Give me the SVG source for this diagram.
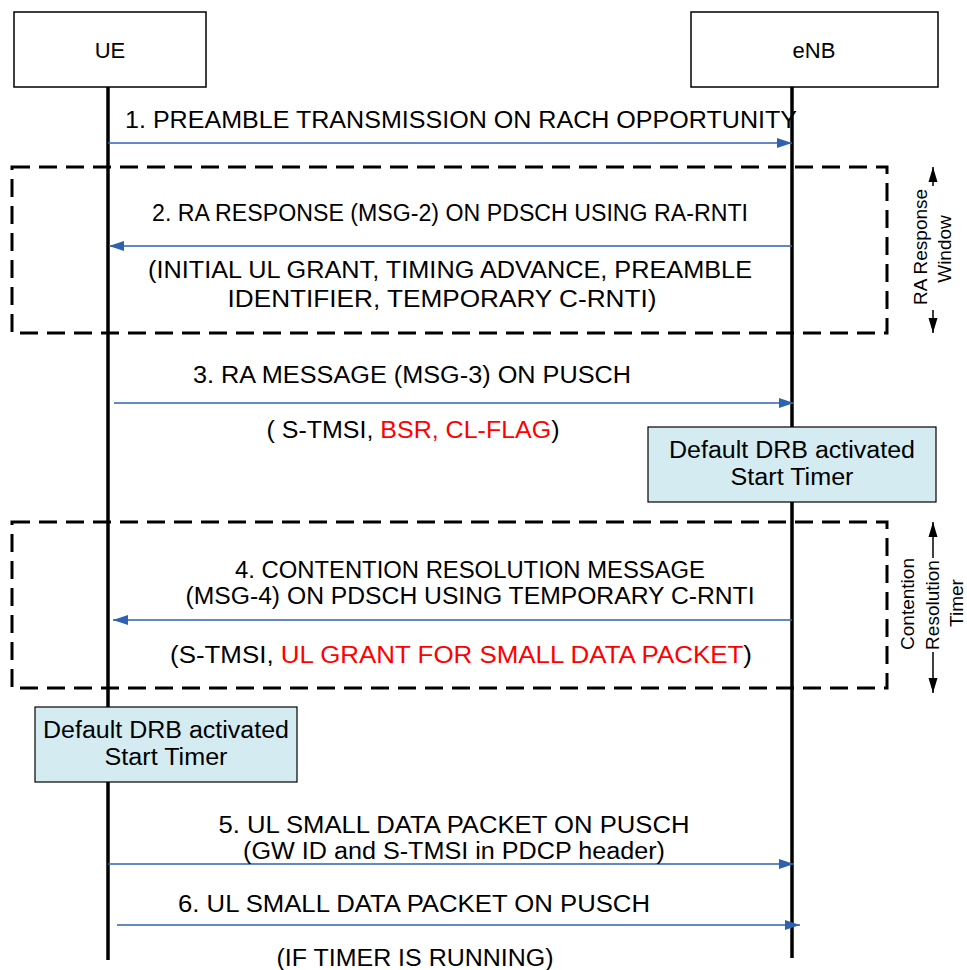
<svg xmlns="http://www.w3.org/2000/svg" width="967" height="970" viewBox="0 0 967 970">
<defs>
<marker id="ab" markerUnits="userSpaceOnUse" markerWidth="16" markerHeight="12" refX="15" refY="6" orient="auto">
<path d="M0,1 L15,6 L0,11 Z" fill="#2E62AE"/>
</marker>
<marker id="ak" markerUnits="userSpaceOnUse" markerWidth="16" markerHeight="12" refX="15" refY="6" orient="auto">
<path d="M0,1.5 L15,6 L0,10.5 Z" fill="#000"/>
</marker>
</defs>
<style>
text{font-family:"Liberation Sans",Arial,sans-serif;fill:#000;}
.t{font-size:23px;text-anchor:middle;}
.h{font-size:22px;text-anchor:middle;}
.v{font-size:19px;text-anchor:middle;}
.red{fill:#FF0000;}
.msg{stroke:#2E62AE;stroke-width:1.5;fill:none;marker-end:url(#ab);}
.life{stroke:#000;stroke-width:3.5;}
.ent{fill:#fff;stroke:#000;stroke-width:1.5;}
.act{fill:#D4ECF1;stroke:#000;stroke-width:1.2;}
.dash{fill:none;stroke:#000;stroke-width:3;stroke-dasharray:18 9;}
.tm{stroke:#000;stroke-width:1.5;fill:none;marker-end:url(#ak);}
</style>
<g id="lifelines">
<line class="life" x1="108" y1="87" x2="108" y2="960"/>
<line class="life" x1="792" y1="87" x2="792" y2="958"/>
</g>
<g id="node-ue">
<rect class="ent" x="14" y="12" width="192" height="75"/>
<text class="h" x="110" y="58">UE</text>
</g>
<g id="node-enb">
<rect class="ent" x="691" y="12" width="247" height="75"/>
<text class="h" x="814" y="58">eNB</text>
</g>
<g id="frame-ra-window">
<rect class="dash" x="12" y="167" width="875" height="166"/>
</g>
<g id="frame-contention">
<rect class="dash" x="12" y="522" width="875" height="166"/>
</g>
<g id="node-enb-timer">
<rect class="act" x="648" y="427" width="288" height="75"/>
<text class="t" x="792" y="458" textLength="246" lengthAdjust="spacingAndGlyphs">Default DRB activated</text>
<text class="t" x="792" y="485" textLength="123" lengthAdjust="spacingAndGlyphs">Start Timer</text>
</g>
<g id="node-ue-timer">
<rect class="act" x="35" y="707" width="262" height="75"/>
<text class="t" x="166" y="738" textLength="246" lengthAdjust="spacingAndGlyphs">Default DRB activated</text>
<text class="t" x="166" y="765" textLength="123" lengthAdjust="spacingAndGlyphs">Start Timer</text>
</g>
<g id="connectors">
<line class="msg" x1="108" y1="143" x2="792" y2="143"/>
<line class="msg" x1="792" y1="246" x2="109" y2="246"/>
<line class="msg" x1="114" y1="403" x2="794" y2="403"/>
<line class="msg" x1="792" y1="620" x2="113" y2="620"/>
<line class="msg" x1="108" y1="864" x2="794" y2="864"/>
<line class="msg" x1="117" y1="925" x2="800" y2="925"/>
<line class="tm" x1="933" y1="186" x2="933" y2="167"/>
<line class="tm" x1="933" y1="310" x2="933" y2="333"/>
<line class="tm" x1="933" y1="558" x2="933" y2="522"/>
<line class="tm" x1="933" y1="652" x2="933" y2="693"/>
</g>
<g id="labels">
<text class="t" x="461" y="128" textLength="672" lengthAdjust="spacingAndGlyphs">1. PREAMBLE TRANSMISSION ON RACH OPPORTUNITY</text>
<text class="t" x="450" y="221" textLength="596" lengthAdjust="spacingAndGlyphs">2. RA RESPONSE (MSG-2) ON PDSCH USING RA-RNTI</text>
<text class="t" x="450" y="278" textLength="604" lengthAdjust="spacingAndGlyphs">(INITIAL UL GRANT, TIMING ADVANCE, PREAMBLE</text>
<text class="t" x="442" y="307" textLength="429" lengthAdjust="spacingAndGlyphs">IDENTIFIER, TEMPORARY C-RNTI)</text>
<text class="t" x="412" y="383" textLength="438" lengthAdjust="spacingAndGlyphs">3. RA MESSAGE (MSG-3) ON PUSCH</text>
<text class="t" x="413" y="438" textLength="293" lengthAdjust="spacingAndGlyphs">( S-TMSI, <tspan class="red">BSR, CL-FLAG</tspan>)</text>
<text class="t" x="470" y="578" textLength="470" lengthAdjust="spacingAndGlyphs">4. CONTENTION RESOLUTION MESSAGE</text>
<text class="t" x="470" y="604" textLength="569" lengthAdjust="spacingAndGlyphs">(MSG-4) ON PDSCH USING TEMPORARY C-RNTI</text>
<text class="t" x="461" y="663" textLength="582" lengthAdjust="spacingAndGlyphs">(S-TMSI, <tspan class="red">UL GRANT FOR SMALL DATA PACKET</tspan>)</text>
<text class="t" x="454" y="833" textLength="471" lengthAdjust="spacingAndGlyphs">5. UL SMALL DATA PACKET ON PUSCH</text>
<text class="t" x="454" y="859" textLength="422" lengthAdjust="spacingAndGlyphs">(GW ID and S-TMSI in PDCP header)</text>
<text class="t" x="414" y="912" textLength="472" lengthAdjust="spacingAndGlyphs">6. UL SMALL DATA PACKET ON PUSCH</text>
<text class="t" x="415" y="966" textLength="277" lengthAdjust="spacingAndGlyphs">(IF TIMER IS RUNNING)</text>
</g>
<g id="timer-labels">
<text class="v" transform="translate(927,247) rotate(-90)">RA Response</text>
<text class="v" transform="translate(951,249) rotate(-90)">Window</text>
<text class="v" transform="translate(914,604) rotate(-90)">Contention</text>
<text class="v" transform="translate(939,605) rotate(-90)">Resolution</text>
<text class="v" transform="translate(963,603) rotate(-90)">Timer</text>
</g>
</svg>
